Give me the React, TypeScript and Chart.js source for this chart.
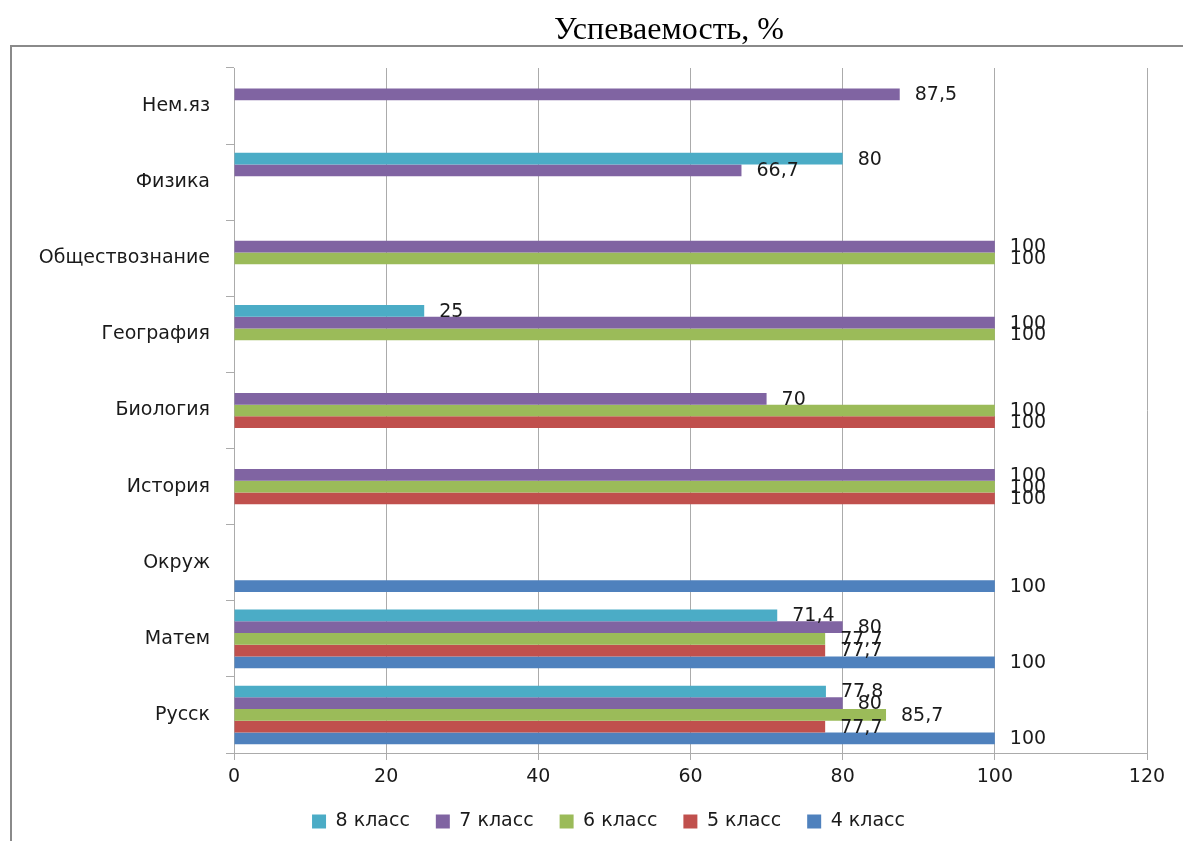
import React, { useEffect, useRef } from "react";
import { Chart, registerables } from "chart.js";

Chart.register(...registerables);

const categories = ["Нем.яз", "Физика", "Обществознание", "География", "Биология", "История", "Окруж", "Матем", "Русск"];
const seriesNames = ["8 класс", "7 класс", "6 класс", "5 класс", "4 класс"];
const grade8 = [null, 80, null, 25, null, null, null, 71.4, 77.8];
const grade7 = [87.5, 66.7, 100, 100, 70, 100, null, 80, 80];
const grade6 = [null, null, 100, 100, 100, 100, null, 77.7, 85.7];
const grade5 = [null, null, null, null, 100, 100, null, 77.7, 77.7];
const grade4 = [null, null, null, null, null, null, 100, 100, 100];
const seriesColors = ["#4BACC6", "#8064A2", "#9BBB59", "#C0504D", "#4F81BD"];
const titleText = "Успеваемость, %";

const FONT = "'DejaVu Sans', sans-serif";
const GRID = "#ababab";

const decorPlugin = {
  id: "decor",
  beforeDraw(chart: any) {
    const ctx = chart.ctx;
    ctx.save();
    ctx.fillStyle = "#ffffff";
    ctx.fillRect(0, 0, chart.width, chart.height);
    ctx.strokeStyle = "#8a8a8a";
    ctx.lineWidth = 2;
    ctx.beginPath();
    ctx.moveTo(11, chart.height + 2);
    ctx.lineTo(11, 46);
    ctx.lineTo(chart.width + 2, 46);
    ctx.stroke();
    ctx.fillStyle = "#000000";
    ctx.font = "32px 'Liberation Serif', serif";
    ctx.textAlign = "center";
    ctx.textBaseline = "middle";
    ctx.fillText(titleText, 669, 31);
    ctx.restore();
  },
  afterDatasetsDraw(chart: any) {
    const ctx = chart.ctx;
    ctx.save();
    ctx.font = "19px " + FONT;
    ctx.fillStyle = "#1a1a1a";
    ctx.textAlign = "left";
    ctx.textBaseline = "middle";
    chart.data.datasets.forEach((ds: any, di: number) => {
      const meta = chart.getDatasetMeta(di);
      meta.data.forEach((el: any, i: number) => {
        const v = ds.data[i];
        if (v === null || v === undefined) return;
        ctx.fillText(String(v).replace(".", ","), el.x + 15, el.y + 1);
      });
    });
    ctx.restore();
  },
};

export default function App() {
  const ref = useRef<HTMLCanvasElement>(null);
  useEffect(() => {
    if (!ref.current) return;
    const values = [grade8, grade7, grade6, grade5, grade4];
    const chart = new Chart(ref.current, {
      type: "bar",
      data: {
        labels: categories,
        datasets: seriesNames.map((name, i) => ({
          label: name,
          data: values[i],
          backgroundColor: seriesColors[i],
          borderWidth: 0,
          categoryPercentage: 0.77,
          barPercentage: 1,
        })),
      },
      options: {
        indexAxis: "y",
        animation: false,
        responsive: false,
        devicePixelRatio: 1,
        layout: { padding: { top: 68, left: 34, right: 0, bottom: 0 } },
        scales: {
          x: {
            min: 0,
            max: 120,
            ticks: { stepSize: 20, color: "#1a1a1a", font: { family: FONT, size: 19 }, padding: 6 },
            grid: { color: GRID, lineWidth: 1, tickLength: 7, drawTicks: true },
            border: { display: true, color: GRID },
            afterFit: (s: any) => {
              s.height = 33;
              s.paddingRight = 36;
            },
          },
          y: {
            ticks: { color: "#1a1a1a", font: { family: FONT, size: 19 }, padding: 16 },
            grid: { color: GRID, drawOnChartArea: false, drawTicks: true, tickLength: 8, offset: true },
            border: { display: true, color: GRID },
            afterFit: (s: any) => {
              s.width = 200;
            },
          },
        },
        plugins: {
          title: { display: false },
          tooltip: { enabled: false },
          legend: {
            position: "bottom",
            labels: {
              boxWidth: 14,
              boxHeight: 14,
              padding: 26,
              color: "#1a1a1a",
              font: { family: FONT, size: 19 },
            },
          },
        },
      },
      plugins: [decorPlugin],
    } as any);
    return () => chart.destroy();
  }, []);
  return (
    <div style={{ position: "absolute", left: 0, top: 0, width: 1183, height: 841 }}>
      <canvas ref={ref} width={1183} height={841} />
    </div>
  );
}
